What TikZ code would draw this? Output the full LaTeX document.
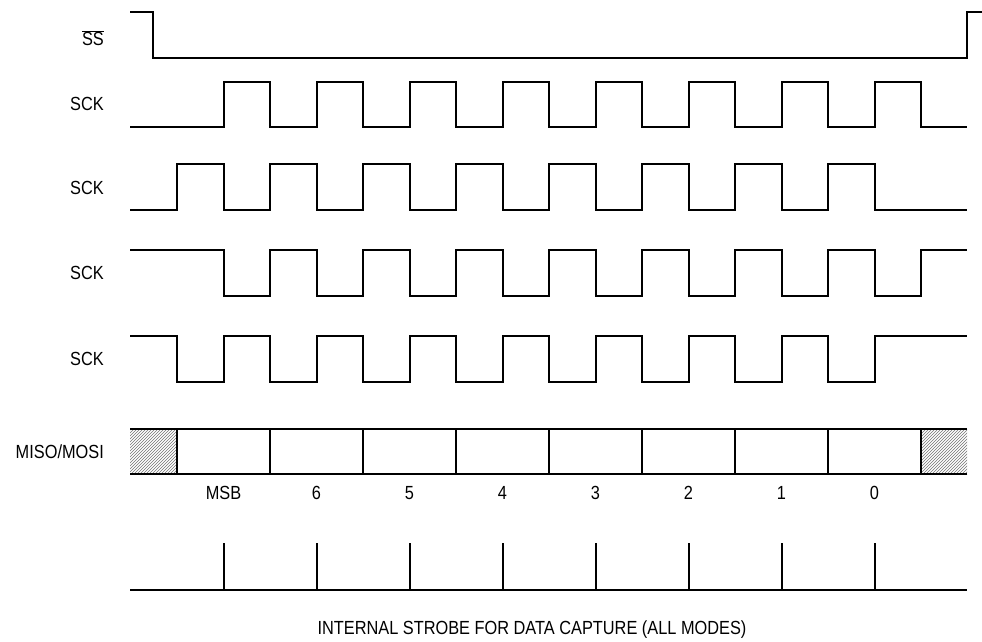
\documentclass[tikz,border=0pt]{standalone}
\usepackage{fontspec}
\setmainfont[FakeStretch=0.86]{Liberation Sans}
\usetikzlibrary{patterns}

\begin{document}
\begin{tikzpicture}[x=1pt, y=-1pt,
  font=\fontsize{19}{22}\selectfont,
  sig/.style={line width=2pt, line join=miter},
  lbl/.style={anchor=east, inner sep=0pt},
  bit/.style={inner sep=0pt},
  hatch/.style={pattern=north east lines, pattern color=black!55},
]
\useasboundingbox (0,0) rectangle (982,641);
% --- signal names ------------------------------------------------------
\node[lbl] (ssn)  at (104,38)  {$\overline{\hbox{SS}}$};
\node[lbl] (sck0) at (104,104) {SCK};
\node[lbl] (sck1) at (104,188) {SCK};
\node[lbl] (sck2) at (104,273) {SCK};
\node[lbl] (sck3) at (104,359) {SCK};
\node[lbl] (data) at (104,452) {MISO/MOSI};
% --- slave select --------------------------------------------------------
\draw[sig] (130,12) -- (153,12) -- (153,58) -- (967,58) -- (967,12) -- (982,12);
% --- the four clock modes ------------------------------------------------
\draw[sig] (130,127) \foreach \i in {0,...,7}
  { -- ({223.5+93*\i},127) -- ({223.5+93*\i},82) -- ({270+93*\i},82) -- ({270+93*\i},127) }
  -- (967,127);
\draw[sig] (130,210) \foreach \i in {0,...,7}
  { -- ({177+93*\i},210) -- ({177+93*\i},164) -- ({223.5+93*\i},164) -- ({223.5+93*\i},210) }
  -- (967,210);
\draw[sig] (130,250) \foreach \i in {0,...,7}
  { -- ({223.5+93*\i},250) -- ({223.5+93*\i},296) -- ({270+93*\i},296) -- ({270+93*\i},250) }
  -- (967,250);
\draw[sig] (130,336) \foreach \i in {0,...,7}
  { -- ({177+93*\i},336) -- ({177+93*\i},382) -- ({223.5+93*\i},382) -- ({223.5+93*\i},336) }
  -- (967,336);
% --- data line: don't-care ends, eight bit cells ---------------------------
\fill[hatch] (130,429) rectangle (177,474);
\fill[hatch] (921,429) rectangle (967,474);
\draw[sig] (130,429) -- (967,429);
\draw[sig] (130,474) -- (967,474);
\foreach \k in {0,...,8}
  \draw[sig] ({177+93*\k},429) -- ({177+93*\k},474);
\foreach \b [count=\k from 0] in {MSB,6,5,4,3,2,1,0}
  \node[bit] (b\k) at ({223.5+93*\k},493) {\b};
% --- strobe --------------------------------------------------------------
\draw[sig] (130,590) -- (967,590);
\foreach \k in {0,...,7}
  \draw[sig] ({223.5+93*\k},543) -- ({223.5+93*\k},590);
\node[bit] (cap) at (532,630) {INTERNAL STROBE FOR DATA CAPTURE (ALL MODES)};
\end{tikzpicture}
\end{document}
